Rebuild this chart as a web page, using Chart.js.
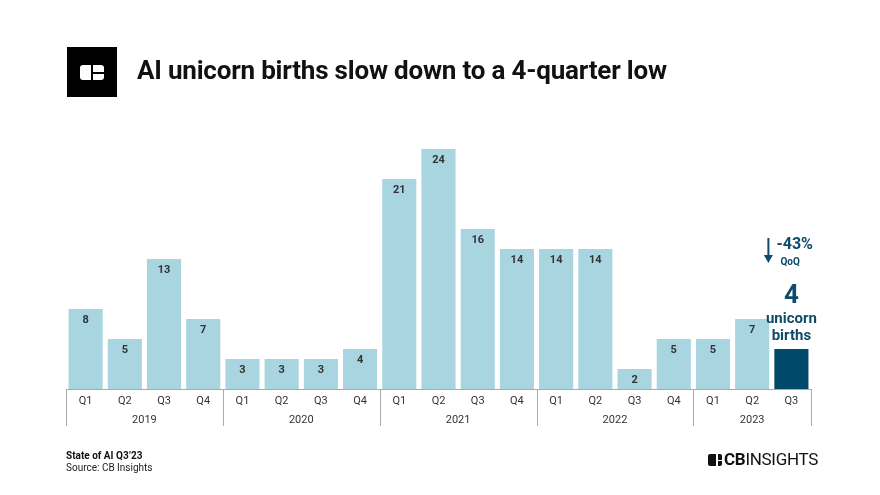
<!DOCTYPE html>
<html><head><meta charset="utf-8">
<script src="https://cdn.jsdelivr.net/npm/chart.js@4.4.0/dist/chart.umd.min.js"></script>
<style>
html,body{margin:0;padding:0;background:#fff;}
#wrap{position:relative;width:880px;height:495px;overflow:hidden;font-family:Roboto,"Noto Sans",sans-serif;}
#c{position:absolute;left:0;top:0;}
.logo{position:absolute;left:67px;top:47px;width:50px;height:50px;background:#000;}
.logo .ic{position:absolute;left:13px;top:18px;width:24px;height:15px;background:#fff;border-radius:3px;}
.logo .v{position:absolute;left:11px;top:0;width:2px;height:15px;background:#000;}
.logo .h{position:absolute;left:11px;top:6.5px;width:13px;height:2px;background:#000;}
.title{position:absolute;left:137px;top:55px;font-size:26px;font-weight:700;color:#111;white-space:nowrap;letter-spacing:-0.2px;}
.foot1{position:absolute;left:66px;top:450px;font-size:10px;font-weight:700;color:#111;}
.foot2{position:absolute;left:66px;top:462px;font-size:10px;color:#222;}
.cbl{position:absolute;left:708px;top:452px;height:16px;}
.cbl .ic{position:absolute;left:0;top:2px;width:14px;height:12px;background:#111;border-radius:2px;}
.cbl .v{position:absolute;left:8px;top:0;width:1.5px;height:12px;background:#fff;}
.cbl .h{position:absolute;left:8px;top:5.5px;width:6px;height:1.5px;background:#fff;}
.cbl .t{position:absolute;left:16px;top:-3px;font-size:17px;color:#111;white-space:nowrap;letter-spacing:-0.3px;}
</style></head>
<body><div id="wrap">
<canvas id="c" width="880" height="495"></canvas>
<div class="logo"><div class="ic"><div class="v"></div><div class="h"></div></div></div>
<div class="title">AI unicorn births slow down to a 4-quarter low</div>
<div class="foot1">State of AI Q3’23</div>
<div class="foot2">Source: CB Insights</div>
<div class="cbl"><div class="ic"><div class="v"></div><div class="h"></div></div><div class="t"><b>CB</b>INSIGHTS</div></div>
</div>
<script>
const quarters = ["Q1","Q2","Q3","Q4","Q1","Q2","Q3","Q4","Q1","Q2","Q3","Q4","Q1","Q2","Q3","Q4","Q1","Q2","Q3"];
const years = ["2019","2020","2021","2022","2023"];
const quartersPerYear = [4,4,4,4,3];
const births = [8,5,13,7,3,3,3,4,21,24,16,14,14,14,2,5,5,7,4];
const changeLabel = "-43%";
const changeSub = "QoQ";

const LIGHT = "#a8d5df", DARK = "#00496b", ANN = "#0f4a6a";
const colors = births.map((v,i)=> i===births.length-1 ? DARK : LIGHT);

const overlay = {
  id:'overlay',
  afterDatasetsDraw(chart){
    const ctx = chart.ctx, xs = chart.scales.x, ys = chart.scales.y;
    const meta = chart.getDatasetMeta(0);
    ctx.save();
    ctx.font = "bold 11px Roboto";
    ctx.fillStyle = "#333";
    ctx.textAlign = "center"; ctx.textBaseline = "middle";
    meta.data.forEach((bar,i)=>{
      if(i===births.length-1) return;
      ctx.fillText(String(births[i]), bar.x, bar.y + 11.5);
    });
    const y0 = ys.getPixelForValue(0);
    const half = (xs.getPixelForValue(1)-xs.getPixelForValue(0))/2;
    ctx.strokeStyle = "#aaa"; ctx.lineWidth = 1;
    ctx.beginPath();
    ctx.moveTo(xs.getPixelForValue(0)-half, y0+0.5);
    ctx.lineTo(xs.getPixelForValue(births.length-1)+half, y0+0.5);
    ctx.stroke();
    ctx.fillStyle = "#333"; ctx.font = "11px Roboto";
    quarters.forEach((q,i)=> ctx.fillText(q, xs.getPixelForValue(i), y0+12));
    let idx = 0;
    const bx = Math.round(xs.getPixelForValue(0)-half)+0.5;
    ctx.beginPath(); ctx.moveTo(bx, y0); ctx.lineTo(bx, y0+37); ctx.stroke();
    years.forEach((yr,k)=>{
      const s = idx, e = idx + quartersPerYear[k]-1;
      const cx = (xs.getPixelForValue(s)+xs.getPixelForValue(e))/2;
      ctx.fillText(yr, cx, y0+31);
      const rx = Math.round(xs.getPixelForValue(e)+half)+0.5;
      ctx.beginPath(); ctx.moveTo(rx, y0); ctx.lineTo(rx, y0+37); ctx.stroke();
      idx += quartersPerYear[k];
    });
    const last = meta.data[births.length-1];
    ctx.fillStyle = ANN; ctx.textAlign = "center";
    ctx.font = "bold 26px Roboto";
    ctx.fillText(String(births[births.length-1]), last.x, last.y - 53);
    ctx.font = "bold 15px Roboto";
    ctx.fillText("unicorn", last.x, last.y - 30);
    ctx.fillText("births", last.x, last.y - 13);
    const ax = last.x - 23;
    ctx.strokeStyle = ANN; ctx.lineWidth = 2;
    ctx.beginPath(); ctx.moveTo(ax, last.y-111); ctx.lineTo(ax, last.y-92); ctx.stroke();
    ctx.beginPath(); ctx.moveTo(ax-4.5, last.y-94); ctx.lineTo(ax+4.5, last.y-94); ctx.lineTo(ax, last.y-86); ctx.closePath(); ctx.fill();
    ctx.textAlign = "left";
    ctx.font = "bold 16px Roboto";
    ctx.fillText(changeLabel, ax+8, last.y-104);
    ctx.font = "bold 10px Roboto";
    ctx.fillText(changeSub, ax+12, last.y-87);
    ctx.restore();
  }
};

new Chart(document.getElementById('c'), {
  type:'bar',
  data:{ labels: quarters.map((q,i)=>q+"_"+i),
    datasets:[{ data: births, backgroundColor: colors, borderWidth:0,
      categoryPercentage:1.0, barPercentage:0.87 }]},
  options:{
    responsive:false, animation:false,
    layout:{ padding:{ left:66, right:69, top:119, bottom:106 } },
    plugins:{ legend:{display:false}, tooltip:{enabled:false}, title:{display:false} },
    scales:{
      x:{ display:false },
      y:{ display:false, min:0, max:27 }
    }
  },
  plugins:[overlay]
});
</script>
</body></html>
